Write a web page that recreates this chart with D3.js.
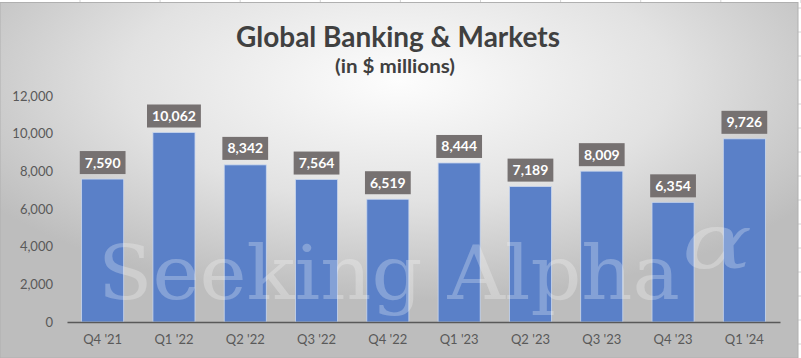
<!DOCTYPE html>
<html>
<head>
<meta charset="utf-8">
<script src="https://cdn.jsdelivr.net/npm/d3@7"></script>
<style>
  body { margin: 0; background: #ffffff; }
  svg { display: block; }
</style>
</head>
<body>
<div id="chart"></div>
<script>
// chart data
var quarters = ["Q4 '21", "Q1 '22", "Q2 '22", "Q3 '22", "Q4 '22", "Q1 '23", "Q2 '23", "Q3 '23", "Q4 '23", "Q1 '24"];
var revenue = [7590, 10062, 8342, 7564, 6519, 8444, 7189, 8009, 6354, 9726];
var yTicks = [0, 2000, 4000, 6000, 8000, 10000, 12000];

var W = 801, H = 358;
var svg = d3.select("#chart").append("svg")
	.attr("width", W)
	.attr("height", H);

// background gradient (chart area)
var defs = svg.append("defs");
var grad = defs.append("radialGradient")
	.attr("id", "bg")
	.attr("cx", "50%").attr("cy", "22%")
	.attr("r", "62%")
	.attr("fx", "50%").attr("fy", "22%");
grad.append("stop").attr("offset", "0%").attr("stop-color", "#fdfdfd");
grad.append("stop").attr("offset", "55%").attr("stop-color", "#e2e2e2");
grad.append("stop").attr("offset", "100%").attr("stop-color", "#bdbdbd");

// spreadsheet bits around the chart
var sheet = svg.append("g");
d3.range(80, 801, 80.1).forEach(function(x){
	sheet.append("line")
		.attr("x1", x).attr("x2", x).attr("y1", 0).attr("y2", 3)
		.attr("stroke", "#d4d4d4");
});
d3.range(8, 358, 24).forEach(function(y){
	sheet.append("line")
		.attr("x1", 798).attr("x2", 801).attr("y1", y).attr("y2", y)
		.attr("stroke", "#d4d4d4");
});

svg.append("rect")
	.attr("x", 0).attr("y", 2.5)
	.attr("width", 798).attr("height", H - 2.5)
	.attr("fill", "url(#bg)")
	.attr("stroke", "#b0b0b0")
	.attr("stroke-width", 1);

// scales
var x = d3.scaleBand()
	.domain(quarters)
	.range([67, 780])
	.paddingInner(0.41)
	.paddingOuter(0.205);

var y = d3.scaleLinear()
	.domain([0, 12000])
	.range([322, 96]);

// title
svg.append("text")
	.attr("x", 236).attr("y", 47)
	.attr("font-family", "Lato, sans-serif")
	.attr("font-weight", "bold")
	.attr("font-size", 28)
	.attr("textLength", 324)
	.attr("lengthAdjust", "spacingAndGlyphs")
	.attr("fill", "#404040")
	.text("Global Banking & Markets");

svg.append("text")
	.attr("x", 335).attr("y", 73)
	.attr("font-family", "Lato, sans-serif")
	.attr("font-weight", "bold")
	.attr("font-size", 18)
	.attr("textLength", 120)
	.attr("lengthAdjust", "spacingAndGlyphs")
	.attr("fill", "#404040")
	.text("(in $ millions)");

// y axis (labels only)
var yAxis = d3.axisLeft(y)
	.tickValues(yTicks)
	.tickFormat(d3.format(","))
	.tickSize(0)
	.tickPadding(0);

var yG = svg.append("g")
	.attr("transform", "translate(53,0)")
	.call(yAxis);
yG.select(".domain").remove();
yG.selectAll("text")
	.attr("font-family", "Lato, sans-serif")
	.attr("font-size", 13)
	.attr("fill", "#595959");

// bars
svg.append("g").selectAll("rect")
	.data(revenue)
	.enter().append("rect")
	.attr("x", function(d, i){ return x(quarters[i]); })
	.attr("y", function(d){ return y(d); })
	.attr("width", x.bandwidth())
	.attr("height", function(d){ return y(0) - y(d); })
	.attr("fill", "#5a80c8")
	.attr("stroke", "#c9d6ee")
	.attr("stroke-width", 0.8);

// watermark
var wm = svg.append("g")
	.attr("fill", "#ffffff")
	.attr("fill-opacity", 0.26)
	.attr("font-family", "'DejaVu Serif', 'Liberation Serif', serif");
wm.append("text")
	.attr("x", 98).attr("y", 299)
	.attr("font-size", 74)
	.attr("textLength", 582)
	.attr("lengthAdjust", "spacingAndGlyphs")
	.text("Seeking Alpha");
wm.append("text")
	.attr("x", 682).attr("y", 268)
	.attr("font-size", 76)
	.attr("font-style", "italic")
	.attr("textLength", 70)
	.attr("lengthAdjust", "spacingAndGlyphs")
	.text("\u03b1");

// x axis
var xAxis = d3.axisBottom(x).tickSize(0).tickPadding(13);
var xG = svg.append("g")
	.attr("transform", "translate(0," + y(0) + ")")
	.call(xAxis);
xG.select(".domain")
	.attr("stroke", "#595959")
	.attr("stroke-width", 1.5);
xG.selectAll("text")
	.attr("font-family", "Lato, sans-serif")
	.attr("font-size", 13)
	.attr("fill", "#595959");

// value labels
var labels = svg.append("g").selectAll("g")
	.data(revenue)
	.enter().append("g")
	.attr("transform", function(d, i){
		return "translate(" + (x(quarters[i]) + x.bandwidth() / 2) + "," + (y(d) - 5) + ")";
	});

labels.append("text")
	.attr("text-anchor", "middle")
	.attr("y", -6.5)
	.attr("font-family", "Lato, sans-serif")
	.attr("font-weight", "bold")
	.attr("font-size", 14)
	.attr("fill", "#ffffff")
	.text(function(d){ return d3.format(",")(d); });

labels.insert("rect", "text")
	.each(function(){
		var t = d3.select(this.parentNode).select("text").node().getBBox();
		d3.select(this)
			.attr("x", t.x - 5)
			.attr("y", -23)
			.attr("width", t.width + 10)
			.attr("height", 23);
	})
	.attr("fill", "#767171");
</script>
</body>
</html>
